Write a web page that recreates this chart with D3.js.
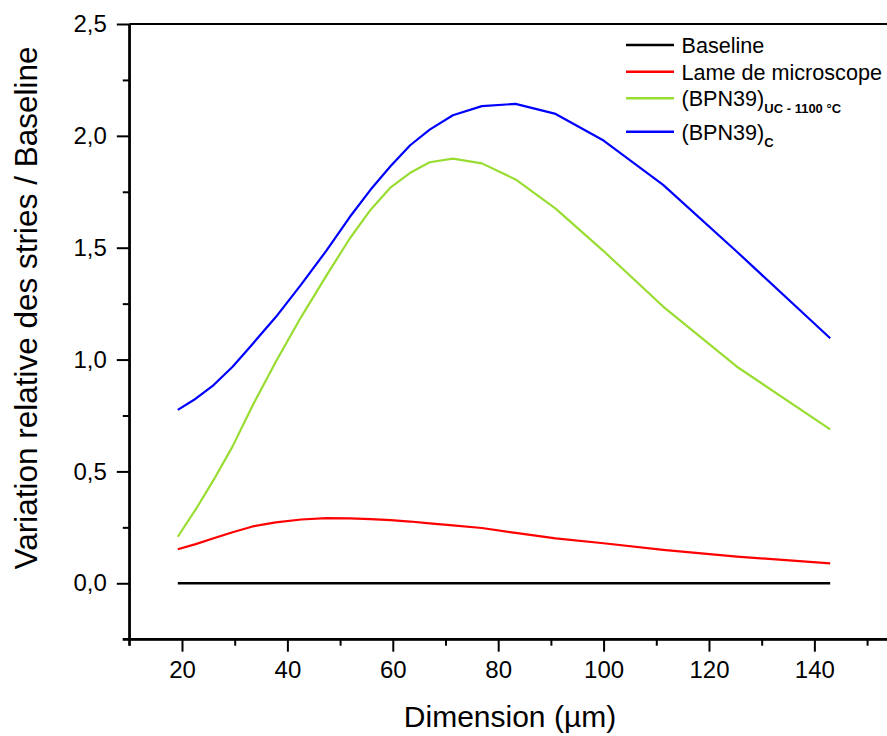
<!DOCTYPE html>
<html>
<head>
<meta charset="utf-8">
<script src="https://cdn.jsdelivr.net/npm/d3@7"></script>
<style>
  html, body { margin: 0; padding: 0; background: #fff; }
  svg { display: block; font-family: "Liberation Sans", Arial, sans-serif; }
</style>
</head>
<body>
<svg id="chart" width="887" height="736"></svg>
<script>
// ---- data ----
const dimension = [19.2, 22.6, 26, 29.6, 33.4, 37.8, 42.6, 47.4, 51.8, 55.8, 59.6, 63.3, 67, 71.4, 76.9, 83.3, 90.9, 100, 111.3, 125.3, 143];
const baseline  = [0, 0, 0, 0, 0, 0, 0, 0, 0, 0, 0, 0, 0, 0, 0, 0, 0, 0, 0, 0, 0];
const lame      = [0.152, 0.175, 0.201, 0.228, 0.254, 0.272, 0.285, 0.291, 0.290, 0.287, 0.282, 0.276, 0.268, 0.259, 0.247, 0.225, 0.201, 0.179, 0.149, 0.119, 0.089];
const bpnUC     = [0.208, 0.330, 0.462, 0.612, 0.795, 0.990, 1.190, 1.375, 1.540, 1.670, 1.770, 1.835, 1.882, 1.898, 1.877, 1.805, 1.675, 1.485, 1.237, 0.968, 0.688];
const bpnC      = [0.775, 0.825, 0.886, 0.968, 1.070, 1.190, 1.335, 1.487, 1.636, 1.760, 1.865, 1.958, 2.028, 2.092, 2.133, 2.143, 2.098, 1.979, 1.781, 1.482, 1.095];

const seriesNames  = ["Baseline", "Lame de microscope", "(BPN39)", "(BPN39)"];
const seriesSubs   = ["", "", "UC - 1100 °C", "C"];
const seriesColors = ["#000000", "#ff0000", "#99dd33", "#0000ff"];
const seriesValues = [baseline, lame, bpnUC, bpnC];

const yMajorTicks = [0, 0.5, 1.0, 1.5, 2.0, 2.5];
const yMinorTicks = [-0.25, 0.25, 0.75, 1.25, 1.75, 2.25];
const xMajorTicks = [20, 40, 60, 80, 100, 120, 140];
const xMinorTicks = [10, 30, 50, 70, 90, 110, 130, 150];

const xTitle = "Dimension (µm)";
const yTitle = "Variation relative des stries / Baseline";

// ---- layout ----
const svg = d3.select("#chart");
const pLeft = 129.3, pRight = 898.7, pTop = 24, pBottom = 639.2;

const x = d3.scaleLinear().domain([10, 156]).range([pLeft, pRight]);
const y = d3.scaleLinear().domain([-0.25, 2.5]).range([pBottom, pTop]);

const fmt = d => d3.format(".1f")(d).replace(".", ",");

// minor ticks
svg.append("g").attr("transform", `translate(${pLeft},0)`)
  .call(d3.axisLeft(y).tickValues(yMinorTicks).tickSize(6.5).tickFormat(""))
  .call(g => g.select(".domain").remove())
  .call(g => g.selectAll("line").attr("stroke-width", 2));
svg.append("g").attr("transform", `translate(0,${pBottom})`)
  .call(d3.axisBottom(x).tickValues(xMinorTicks).tickSize(6.5).tickFormat(""))
  .call(g => g.select(".domain").remove())
  .call(g => g.selectAll("line").attr("stroke-width", 2));

// major y axis
svg.append("g").attr("transform", `translate(${pLeft},0)`)
  .call(d3.axisLeft(y).tickValues(yMajorTicks).tickSize(12.5).tickSizeOuter(0).tickPadding(10).tickFormat(fmt))
  .call(g => g.select(".domain").attr("stroke-width", 2.2))
  .call(g => g.selectAll("line").attr("stroke-width", 2))
  .call(g => g.selectAll("text").attr("font-size", 24).attr("fill", "#000")
      .attr("font-family", "'Liberation Sans', Arial, sans-serif"));

// major x axis
svg.append("g").attr("transform", `translate(0,${pBottom})`)
  .call(d3.axisBottom(x).tickValues(xMajorTicks).tickSize(12.5).tickSizeOuter(0).tickPadding(9).tickFormat(d3.format("d")))
  .call(g => g.select(".domain").attr("stroke-width", 2.2))
  .call(g => g.selectAll("line").attr("stroke-width", 2))
  .call(g => g.selectAll("text").attr("font-size", 24).attr("fill", "#000")
      .attr("font-family", "'Liberation Sans', Arial, sans-serif"));

// extend axes to corner overhangs
svg.append("line").attr("x1", pLeft).attr("x2", pLeft).attr("y1", pTop).attr("y2", pBottom + 6.5)
  .attr("stroke", "#000").attr("stroke-width", 2.2);
svg.append("line").attr("x1", pLeft - 6.5).attr("x2", pRight).attr("y1", pBottom).attr("y2", pBottom)
  .attr("stroke", "#000").attr("stroke-width", 2.2);
// top frame
svg.append("line").attr("x1", pLeft).attr("x2", pRight).attr("y1", y(2.5)).attr("y2", y(2.5))
  .attr("stroke", "#000").attr("stroke-width", 2.2);

// ---- series ----
const line = d3.line().x((d, i) => x(dimension[i])).y(d => y(d));
seriesValues.forEach((vals, k) => {
  svg.append("path").datum(vals)
    .attr("d", line)
    .attr("fill", "none")
    .attr("stroke", seriesColors[k])
    .attr("stroke-width", k === 0 ? 2.4 : 2.2)
    .attr("stroke-linejoin", "round");
});

// ---- titles ----
svg.append("text").attr("x", 510).attr("y", 727)
  .attr("text-anchor", "middle").attr("font-size", 30).attr("fill", "#000").text(xTitle);
svg.append("text").attr("transform", `translate(37,308) rotate(-90)`)
  .attr("text-anchor", "middle").attr("font-size", 31.5).attr("fill", "#000").text(yTitle);

// ---- legend ----
const legendRows = [45, 71.7, 98.3, 131.7];
const leg = svg.append("g");
seriesNames.forEach((name, k) => {
  const ly = legendRows[k];
  leg.append("line").attr("x1", 626).attr("x2", 674).attr("y1", ly).attr("y2", ly)
    .attr("stroke", seriesColors[k]).attr("stroke-width", 2.4);
  const t = leg.append("text").attr("x", 681.5).attr("y", ly + 7.8)
    .attr("font-size", 21.6).attr("fill", "#000");
  t.append("tspan").text(name);
  if (seriesSubs[k]) {
    t.append("tspan").attr("dy", 7).attr("font-size", 13).attr("font-weight", "bold").text(seriesSubs[k]);
  }
});
</script>
</body>
</html>
